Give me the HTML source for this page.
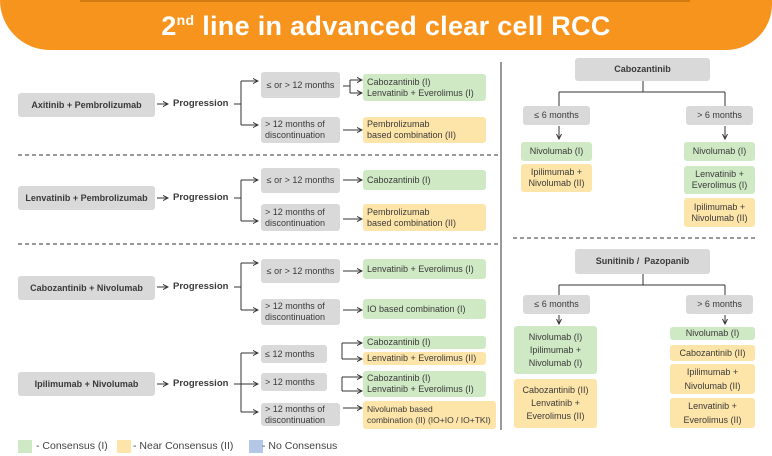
<!DOCTYPE html>
<html><head><meta charset="utf-8"><style>
body{margin:0;width:772px;height:456px;background:#fff;position:relative;overflow:hidden;font-family:"Liberation Sans",Arial,sans-serif;color:#3a3a3a}
.b{position:absolute;display:flex;align-items:center;justify-content:center;text-align:center;font-size:9px;line-height:11px;border-radius:3px;box-sizing:border-box}
.g{background:#d9d9d9}
.gr{background:#cfe9c5}
.y{background:#fde4a8}
.l{justify-content:flex-start;text-align:left;padding-left:4px}
.t{position:absolute;font-size:9.5px;font-weight:bold}
.bold{font-weight:bold}
.banner{position:absolute;left:0;top:0;width:772px;height:50px;background:#f7941d;border-radius:0 0 55px 60px}
.banner:before{content:"";position:absolute;left:80px;top:0;width:610px;height:2px;background:#d07a10}
.title{position:absolute;left:0;width:772px;top:11px;text-align:center;color:#fff;font-weight:bold;font-size:27px;letter-spacing:0.3px}
.title sup{font-size:14px}
.leg{position:absolute;top:440px;width:14px;height:13px}
.lt{position:absolute;top:440px;font-size:10.5px;color:#444}
</style></head><body>
<div class="banner"></div>
<div class="title">2<sup>nd</sup> line in advanced clear cell RCC</div>

<svg width="772" height="456" style="position:absolute;left:0;top:0" fill="none" stroke="#333" stroke-width="1">
<defs><marker id="a" markerWidth="6" markerHeight="6" refX="5" refY="3" orient="auto"><path d="M0,0.5 L5,3 L0,5.5" fill="none" stroke="#333" stroke-width="1"/></marker></defs>
<line x1="157" y1="104" x2="168" y2="104" marker-end="url(#a)"/>
<path d="M234 104H241M241 81V125"/>
<line x1="241" y1="81" x2="258" y2="81" marker-end="url(#a)"/>
<line x1="241" y1="125" x2="258" y2="125" marker-end="url(#a)"/>
<path d="M343 86H350M350 80V93"/>
<line x1="350" y1="80" x2="362" y2="80" marker-end="url(#a)"/>
<line x1="350" y1="93" x2="362" y2="93" marker-end="url(#a)"/>
<line x1="343" y1="130" x2="362" y2="130" marker-end="url(#a)"/>
<line x1="18" y1="155" x2="500" y2="155" stroke-dasharray="4 3"/>
<line x1="157" y1="198" x2="168" y2="198" marker-end="url(#a)"/>
<path d="M234 198H241M241 180V221"/>
<line x1="241" y1="180" x2="258" y2="180" marker-end="url(#a)"/>
<line x1="241" y1="221" x2="258" y2="221" marker-end="url(#a)"/>
<line x1="343" y1="180" x2="362" y2="180" marker-end="url(#a)"/>
<line x1="343" y1="219" x2="362" y2="219" marker-end="url(#a)"/>
<line x1="18" y1="244" x2="500" y2="244" stroke-dasharray="4 3"/>
<line x1="157" y1="287" x2="168" y2="287" marker-end="url(#a)"/>
<path d="M234 287H241M241 263V310"/>
<line x1="241" y1="263" x2="258" y2="263" marker-end="url(#a)"/>
<line x1="241" y1="310" x2="258" y2="310" marker-end="url(#a)"/>
<line x1="343" y1="271" x2="362" y2="271" marker-end="url(#a)"/>
<line x1="343" y1="310" x2="362" y2="310" marker-end="url(#a)"/>
<line x1="157" y1="384" x2="168" y2="384" marker-end="url(#a)"/>
<path d="M234 384H241M241 353V412"/>
<line x1="241" y1="353" x2="258" y2="353" marker-end="url(#a)"/>
<line x1="241" y1="384" x2="258" y2="384" marker-end="url(#a)"/>
<line x1="241" y1="412" x2="258" y2="412" marker-end="url(#a)"/>
<path d="M342 343V359"/>
<line x1="342" y1="343" x2="362" y2="343" marker-end="url(#a)"/>
<line x1="342" y1="359" x2="362" y2="359" marker-end="url(#a)"/>
<path d="M342 377V391"/>
<line x1="342" y1="377" x2="362" y2="377" marker-end="url(#a)"/>
<line x1="342" y1="391" x2="362" y2="391" marker-end="url(#a)"/>
<line x1="343" y1="408" x2="362" y2="408" marker-end="url(#a)"/>
<line x1="501" y1="62" x2="501" y2="430"/>
<path d="M643 81V92M559 92H725M559 92V106M725 92V106"/>
<line x1="559" y1="126" x2="559" y2="139" marker-end="url(#a)"/>
<line x1="725" y1="126" x2="725" y2="139" marker-end="url(#a)"/>
<line x1="513" y1="238" x2="755" y2="238" stroke-dasharray="4 3"/>
<path d="M643 274V285M559 285H725M559 285V295M725 285V295"/>
<line x1="559" y1="315" x2="559" y2="324" marker-end="url(#a)"/>
<line x1="725" y1="315" x2="725" y2="324" marker-end="url(#a)"/>
</svg>

<div class="b g bold" style="left:18px;top:93px;width:137px;height:24px">Axitinib + Pembrolizumab</div>
<div class="t" style="left:173px;top:98px">Progression</div>
<div class="b g" style="left:261px;top:72px;width:79px;height:26px">≤ or &gt; 12 months</div>
<div class="b gr l" style="left:363px;top:74px;width:123px;height:27px">Cabozantinib (I)<br>Lenvatinib + Everolimus (I)</div>
<div class="b g l" style="left:261px;top:117px;width:79px;height:26px">&gt; 12 months of<br>discontinuation</div>
<div class="b y l" style="left:363px;top:117px;width:123px;height:26px">Pembrolizumab<br>based combination (II)</div>
<div class="b g bold" style="left:18px;top:186px;width:137px;height:24px">Lenvatinib + Pembrolizumab</div>
<div class="t" style="left:173px;top:192px">Progression</div>
<div class="b g" style="left:261px;top:168px;width:79px;height:25px">≤ or &gt; 12 months</div>
<div class="b gr l" style="left:363px;top:170px;width:123px;height:20px">Cabozantinib (I)</div>
<div class="b g l" style="left:261px;top:204px;width:79px;height:27px">&gt; 12 months of<br>discontinuation</div>
<div class="b y l" style="left:363px;top:204px;width:123px;height:27px">Pembrolizumab<br>based combination (II)</div>
<div class="b g bold" style="left:18px;top:276px;width:137px;height:24px">Cabozantinib + Nivolumab</div>
<div class="t" style="left:173px;top:281px">Progression</div>
<div class="b g" style="left:261px;top:259px;width:79px;height:24px">≤ or &gt; 12 months</div>
<div class="b gr l" style="left:363px;top:259px;width:123px;height:20px">Lenvatinib + Everolimus (I)</div>
<div class="b g l" style="left:261px;top:299px;width:79px;height:26px">&gt; 12 months of<br>discontinuation</div>
<div class="b gr l" style="left:363px;top:299px;width:123px;height:20px">IO based combination (I)</div>
<div class="b g bold" style="left:18px;top:372px;width:137px;height:24px">Ipilimumab + Nivolumab</div>
<div class="t" style="left:173px;top:378px">Progression</div>
<div class="b g l" style="left:261px;top:345px;width:66px;height:18px">≤ 12 months</div>
<div class="b gr l" style="left:363px;top:336px;width:123px;height:13px">Cabozantinib (I)</div>
<div class="b y l" style="left:363px;top:352px;width:123px;height:13px">Lenvatinib + Everolimus (II)</div>
<div class="b g l" style="left:261px;top:373px;width:66px;height:18px">&gt; 12 months</div>
<div class="b gr l" style="left:363px;top:371px;width:123px;height:26px">Cabozantinib (I)<br>Lenvatinib + Everolimus (I)</div>
<div class="b g l" style="left:261px;top:403px;width:79px;height:23px">&gt; 12 months of<br>discontinuation</div>
<div class="b y l" style="left:363px;top:401px;width:133px;height:28px;font-size:8.5px">Nivolumab based<br>combination (II) (IO+IO / IO+TKI)</div>
<div class="b g bold" style="left:575px;top:58px;width:135px;height:23px">Cabozantinib</div>
<div class="b g" style="left:523px;top:106px;width:67px;height:19px">≤ 6 months</div>
<div class="b g" style="left:686px;top:106px;width:67px;height:19px">&gt; 6 months</div>
<div class="b gr" style="left:521px;top:142px;width:71px;height:19px">Nivolumab (I)</div>
<div class="b y" style="left:521px;top:164px;width:71px;height:28px">Ipilimumab +<br>Nivolumab (II)</div>
<div class="b gr" style="left:684px;top:142px;width:71px;height:19px">Nivolumab (I)</div>
<div class="b gr" style="left:684px;top:166px;width:71px;height:28px">Lenvatinib +<br>Everolimus (I)</div>
<div class="b y" style="left:684px;top:198px;width:71px;height:29px">Ipilimumab +<br>Nivolumab (II)</div>
<div class="b g bold" style="left:575px;top:249px;width:135px;height:25px">Sunitinib / &nbsp;Pazopanib</div>
<div class="b g" style="left:523px;top:295px;width:67px;height:19px">≤ 6 months</div>
<div class="b g" style="left:686px;top:295px;width:67px;height:19px">&gt; 6 months</div>
<div class="b gr" style="left:514px;top:326px;width:83px;height:48px;line-height:13px">Nivolumab (I)<br>Ipilimumab +<br>Nivolumab (I)</div>
<div class="b y" style="left:514px;top:379px;width:83px;height:49px;line-height:13px">Cabozantinib (II)<br>Lenvatinib +<br>Everolimus (II)</div>
<div class="b gr" style="left:670px;top:327px;width:85px;height:13px">Nivolumab (I)</div>
<div class="b y" style="left:670px;top:345px;width:85px;height:16px">Cabozantinib (II)</div>
<div class="b y" style="left:670px;top:364px;width:85px;height:30px;line-height:14px">Ipilimumab +<br>Nivolumab (II)</div>
<div class="b y" style="left:670px;top:398px;width:85px;height:30px;line-height:14px">Lenvatinib +<br>Everolimus (II)</div>
<div class="leg" style="left:18px;background:#cfe9c5"></div>
<div class="lt" style="left:36px">- Consensus (I)</div>
<div class="leg" style="left:117px;background:#fde4a8"></div>
<div class="lt" style="left:133px">- Near Consensus (II)</div>
<div class="leg" style="left:249px;background:#b4c7e7"></div>
<div class="lt" style="left:262px">- No Consensus</div>
</body></html>
